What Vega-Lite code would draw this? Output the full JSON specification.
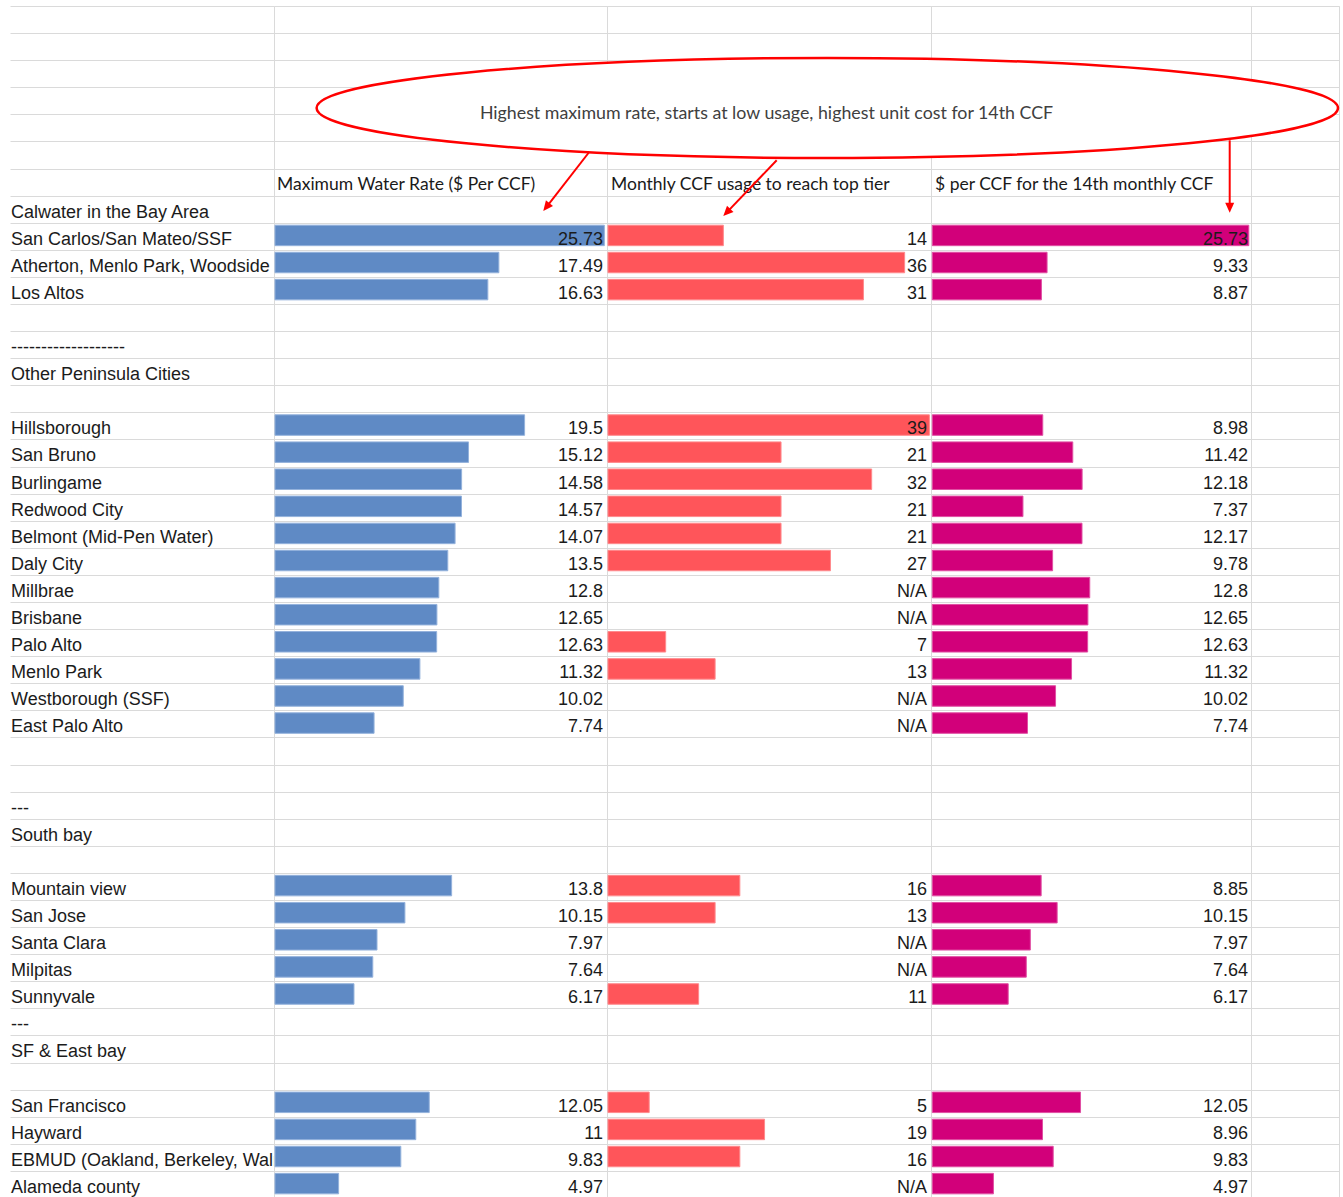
{
  "$schema": "https://vega.github.io/schema/vega-lite/v6.json",
  "padding": {"left": 10, "top": 5, "right": 4, "bottom": 0},
  "autosize": {"type": "pad"},
  "bounds": "flush",
  "spacing": 0,
  "background": "#ffffff",
  "config": {
    "view": {"stroke": "#dadada", "strokeWidth": 1},
    "text": {"font": "Liberation Sans", "fontSize": 18, "color": "#1b1b1b"},
    "scale": {"continuousPadding": 0},
    "axisY": {"grid": true, "labels": false, "ticks": false, "domain": false, "gridColor": "#dadada", "gridWidth": 1, "minExtent": 0, "maxExtent": 0}
  },
  "datasets": {
    "rows": [
      {"row": 6, "h1": "Maximum Water Rate ($ Per CCF)", "h2": "Monthly CCF usage to reach top tier", "h3": "$ per CCF for the 14th monthly CCF"},
      {"row": 7, "label": "Calwater in the Bay Area"},
      {"row": 8, "label": "San Carlos/San Mateo/SSF", "rate": 25.73, "ccf": 14, "cost14": 25.73},
      {"row": 9, "label": "Atherton, Menlo Park, Woodside", "rate": 17.49, "ccf": 36, "cost14": 9.33},
      {"row": 10, "label": "Los Altos", "rate": 16.63, "ccf": 31, "cost14": 8.87},
      {"row": 12, "label": "-------------------"},
      {"row": 13, "label": "Other Peninsula Cities"},
      {"row": 15, "label": "Hillsborough", "rate": 19.5, "ccf": 39, "cost14": 8.98},
      {"row": 16, "label": "San Bruno", "rate": 15.12, "ccf": 21, "cost14": 11.42},
      {"row": 17, "label": "Burlingame", "rate": 14.58, "ccf": 32, "cost14": 12.18},
      {"row": 18, "label": "Redwood City", "rate": 14.57, "ccf": 21, "cost14": 7.37},
      {"row": 19, "label": "Belmont (Mid-Pen Water)", "rate": 14.07, "ccf": 21, "cost14": 12.17},
      {"row": 20, "label": "Daly City", "rate": 13.5, "ccf": 27, "cost14": 9.78},
      {"row": 21, "label": "Millbrae", "rate": 12.8, "cost14": 12.8},
      {"row": 22, "label": "Brisbane", "rate": 12.65, "cost14": 12.65},
      {"row": 23, "label": "Palo Alto", "rate": 12.63, "ccf": 7, "cost14": 12.63},
      {"row": 24, "label": "Menlo Park", "rate": 11.32, "ccf": 13, "cost14": 11.32},
      {"row": 25, "label": "Westborough (SSF)", "rate": 10.02, "cost14": 10.02},
      {"row": 26, "label": "East Palo Alto", "rate": 7.74, "cost14": 7.74},
      {"row": 29, "label": "---"},
      {"row": 30, "label": "South bay"},
      {"row": 32, "label": "Mountain view", "rate": 13.8, "ccf": 16, "cost14": 8.85},
      {"row": 33, "label": "San Jose", "rate": 10.15, "ccf": 13, "cost14": 10.15},
      {"row": 34, "label": "Santa Clara", "rate": 7.97, "cost14": 7.97},
      {"row": 35, "label": "Milpitas", "rate": 7.64, "cost14": 7.64},
      {"row": 36, "label": "Sunnyvale", "rate": 6.17, "ccf": 11, "cost14": 6.17},
      {"row": 37, "label": "---"},
      {"row": 38, "label": "SF & East bay"},
      {"row": 40, "label": "San Francisco", "rate": 12.05, "ccf": 5, "cost14": 12.05},
      {"row": 41, "label": "Hayward", "rate": 11, "ccf": 19, "cost14": 8.96},
      {"row": 42, "label": "EBMUD (Oakland, Berkeley, Walnut Creek)", "rate": 9.83, "ccf": 16, "cost14": 9.83},
      {"row": 43, "label": "Alameda county", "rate": 4.97, "cost14": 4.97}
    ],
    "notes": [
      {"kind": "arrow", "x": 590, "row": 5.352, "x2": 546.4, "row2": 7.423},
      {"kind": "arrow", "x": 776.7, "row": 5.696, "x2": 726.8, "row2": 7.619},
      {"kind": "arrow", "x": 1229.7, "row": 4.957, "x2": 1229.7, "row2": 7.446},
      {"kind": "head", "x": 543.3, "row": 7.567, "angle": 218},
      {"kind": "head", "x": 723.3, "row": 7.752, "angle": 224},
      {"kind": "head", "x": 1229.7, "row": 7.63, "angle": 180},
      {"kind": "ellipse", "x": 827.3, "row": 3.765},
      {"kind": "text", "x": 766.5, "row": 4.171, "text": "Highest maximum rate, starts at low usage, highest unit cost for 14th CCF"}
    ]
  },
  "hconcat": [
    {
      "width": 264, "height": 1192,
      "view": {"stroke": null},
      "data": {"name": "rows"},
      "encoding": {"y": {"field": "row", "type": "quantitative", "scale": {"domain": [0, 44], "reverse": true, "nice": false, "zero": false, "padding": 0}, "axis": {"title": null, "values": [0,1,2,3,4,5,6,7,8,9,10,11,12,13,14,15,16,17,18,19,20,21,22,23,24,25,26,27,28,29,30,31,32,33,34,35,36,37,38,39,40,41,42,43,44]}}},
      "layer": [
        {
          "transform": [{"filter": "isValid(datum.label)"}],
          "mark": {"type": "text", "align": "left", "baseline": "alphabetic", "dy": 22, "dx": 1, "clip": true},
          "encoding": {
            "x": {"datum": 0, "type": "quantitative", "scale": {"domain": [0, 1]}, "axis": null},
            "text": {"field": "label", "type": "nominal"}
          }
        }
      ]
    },
    {
      "width": 333, "height": 1192,
      "data": {"name": "rows"},
      "encoding": {
        "y": {"field": "row", "type": "quantitative", "scale": {"domain": [0, 44], "reverse": true, "nice": false, "zero": false, "padding": 0}, "axis": {"title": null, "values": [0,1,2,3,4,5,6,7,8,9,10,11,12,13,14,15,16,17,18,19,20,21,22,23,24,25,26,27,28,29,30,31,32,33,34,35,36,37,38,39,40,41,42,43,44]}}
      },
      "layer": [
        {
          "transform": [{"filter": "isValid(datum.rate)"}],
          "mark": {"type": "bar", "height": 20.5, "yOffset": 12.7, "color": "#5f8ac5", "stroke": "#94b2dc", "strokeWidth": 1},
          "encoding": {
            "x": {"field": "rate", "type": "quantitative", "scale": {"domain": [-0.078, 25.938], "nice": false, "zero": false, "padding": 0}, "axis": null},
            "x2": {"datum": 0}
          }
        },
        {
          "transform": [{"filter": "isValid(datum.rate)"}],
          "mark": {"type": "text", "align": "right", "baseline": "alphabetic", "dy": 22, "dx": -4},
          "encoding": {"x": {"datum": 25.938, "type": "quantitative"}, "text": {"field": "rate", "type": "nominal"}}
        },
        {
          "transform": [{"filter": "isValid(datum.h1)"}],
          "mark": {"type": "text", "align": "left", "baseline": "alphabetic", "dy": 21, "dx": 3, "font": "Lato", "fontSize": 17.5, "color": "#1a1a1a"},
          "encoding": {"x": {"datum": -0.078, "type": "quantitative"}, "text": {"field": "h1", "type": "nominal"}}
        }
      ]
    },
    {
      "width": 324, "height": 1192,
      "data": {"name": "rows"},
      "encoding": {
        "y": {"field": "row", "type": "quantitative", "scale": {"domain": [0, 44], "reverse": true, "nice": false, "zero": false, "padding": 0}, "axis": {"title": null, "values": [0,1,2,3,4,5,6,7,8,9,10,11,12,13,14,15,16,17,18,19,20,21,22,23,24,25,26,27,28,29,30,31,32,33,34,35,36,37,38,39,40,41,42,43,44]}}
      },
      "layer": [
        {
          "transform": [{"filter": "isValid(datum.ccf)"}],
          "mark": {"type": "bar", "height": 20.5, "yOffset": 12.7, "color": "#ff555a", "stroke": "#ff8a8d", "strokeWidth": 1},
          "encoding": {
            "x": {"field": "ccf", "type": "quantitative", "scale": {"domain": [-0.121, 39.199], "nice": false, "zero": false, "padding": 0}, "axis": null},
            "x2": {"datum": 0}
          }
        },
        {
          "transform": [{"filter": "isValid(datum.rate)"}],
          "mark": {"type": "text", "align": "right", "baseline": "alphabetic", "dy": 22, "dx": -4},
          "encoding": {
            "x": {"datum": 39.199, "type": "quantitative"},
            "text": {"condition": {"test": "!isValid(datum.ccf)", "value": "N/A"}, "field": "ccf", "type": "nominal"}
          }
        },
        {
          "transform": [{"filter": "isValid(datum.h2)"}],
          "mark": {"type": "text", "align": "left", "baseline": "alphabetic", "dy": 21, "dx": 4, "font": "Lato", "fontSize": 17.5, "color": "#1a1a1a"},
          "encoding": {"x": {"datum": -0.121, "type": "quantitative"}, "text": {"field": "h2", "type": "nominal"}}
        }
      ]
    },
    {
      "width": 320, "height": 1192,
      "data": {"name": "rows"},
      "encoding": {
        "y": {"field": "row", "type": "quantitative", "scale": {"domain": [0, 44], "reverse": true, "nice": false, "zero": false, "padding": 0}, "axis": {"title": null, "values": [0,1,2,3,4,5,6,7,8,9,10,11,12,13,14,15,16,17,18,19,20,21,22,23,24,25,26,27,28,29,30,31,32,33,34,35,36,37,38,39,40,41,42,43,44]}}
      },
      "layer": [
        {
          "transform": [{"filter": "isValid(datum.cost14)"}],
          "mark": {"type": "bar", "height": 20.5, "yOffset": 12.7, "color": "#d2007a", "stroke": "#e04fa3", "strokeWidth": 1},
          "encoding": {
            "x": {"field": "cost14", "type": "quantitative", "scale": {"domain": [-0.106, 25.91], "nice": false, "zero": false, "padding": 0}, "axis": null},
            "x2": {"datum": 0}
          }
        },
        {
          "transform": [{"filter": "isValid(datum.cost14)"}],
          "mark": {"type": "text", "align": "right", "baseline": "alphabetic", "dy": 22, "dx": -3},
          "encoding": {"x": {"datum": 25.91, "type": "quantitative"}, "text": {"field": "cost14", "type": "nominal"}}
        },
        {
          "transform": [{"filter": "isValid(datum.h3)"}],
          "mark": {"type": "text", "align": "left", "baseline": "alphabetic", "dy": 21, "dx": 4, "font": "Lato", "fontSize": 17.5, "color": "#1a1a1a"},
          "encoding": {"x": {"datum": -0.106, "type": "quantitative"}, "text": {"field": "h3", "type": "nominal"}}
        }
      ]
    },
    {
      "width": 88, "height": 1192,
      "data": {"name": "notes"},
      "encoding": {
        "y": {"field": "row", "type": "quantitative", "scale": {"domain": [0, 44], "reverse": true, "nice": false, "zero": false, "padding": 0}, "axis": {"title": null, "values": [0,1,2,3,4,5,6,7,8,9,10,11,12,13,14,15,16,17,18,19,20,21,22,23,24,25,26,27,28,29,30,31,32,33,34,35,36,37,38,39,40,41,42,43,44]}},
        "x": {"field": "x", "type": "quantitative", "scale": {"domain": [1251, 1339], "nice": false, "zero": false, "padding": 0}, "axis": null}
      },
      "layer": [
        {
          "transform": [{"filter": "datum.kind === 'arrow'"}],
          "mark": {"type": "rule", "color": "#ff0000", "strokeWidth": 2},
          "encoding": {"x2": {"field": "x2"}, "y2": {"field": "row2"}}
        },
        {
          "transform": [{"filter": "datum.kind === 'head'"}],
          "mark": {"type": "point", "shape": "M0,0L-0.45,1L0.45,1Z", "size": 400, "filled": true, "color": "#ff0000", "opacity": 1},
          "encoding": {"angle": {"field": "angle", "type": "quantitative", "scale": null}}
        },
        {
          "transform": [{"filter": "datum.kind === 'ellipse'"}],
          "mark": {"type": "point", "shape": "M-1,0C-1,-0.054,-0.5523,-0.0979,0,-0.0979C0.5523,-0.0979,1,-0.054,1,0C1,0.054,0.5523,0.0979,0,0.0979C-0.5523,0.0979,-1,0.054,-1,0Z", "size": 1043259, "filled": true, "fill": "#ffffff", "stroke": "#ff0000", "strokeWidth": 2.5, "opacity": 1, "fillOpacity": 1, "strokeOpacity": 1},
          "encoding": {}
        },
        {
          "transform": [{"filter": "datum.kind === 'text'"}],
          "mark": {"type": "text", "align": "center", "baseline": "alphabetic", "font": "Lato", "fontSize": 17.8, "color": "#404040"},
          "encoding": {"text": {"field": "text", "type": "nominal"}}
        }
      ]
    }
  ]
}
